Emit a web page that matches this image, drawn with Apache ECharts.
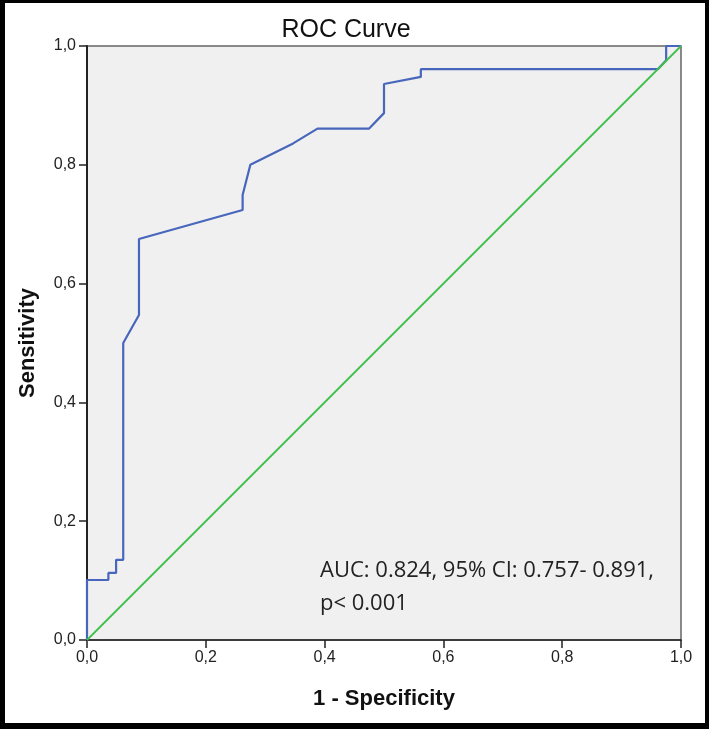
<!DOCTYPE html>
<html>
<head>
<meta charset="utf-8">
<script src="https://cdn.jsdelivr.net/npm/echarts@6/dist/echarts.min.js"></script>
<style>html,body{margin:0;padding:0;background:#fff;}#c{width:709px;height:729px;}</style>
</head>
<body>
<div id="c"></div>
<script>
var fpr = [0, 0, 0.036, 0.036, 0.049, 0.049, 0.061, 0.061, 0.0875, 0.0875, 0.262, 0.262, 0.275, 0.347, 0.388, 0.475, 0.5, 0.5, 0.562, 0.562, 0.961, 0.975, 0.975, 1];
var tpr = [0, 0.101, 0.101, 0.113, 0.113, 0.135, 0.135, 0.5, 0.547, 0.675, 0.724, 0.749, 0.80, 0.836, 0.861, 0.861, 0.887, 0.936, 0.948, 0.961, 0.961, 0.976, 1, 1];
var refX = [0, 1];
var refY = [0, 1];
var tickLabels = ['0,0', '0,2', '0,4', '0,6', '0,8', '1,0'];

function pairs(xs, ys) { return xs.map(function (x, i) { return [x, ys[i]]; }); }
function fmt(v) { return tickLabels[Math.round(v * 5)]; }

var chart = echarts.init(document.getElementById('c'));
chart.setOption({
  animation: false,
  backgroundColor: '#ffffff',
  title: {
    text: 'ROC Curve', left: 341, top: 13, textAlign: 'center',
    textStyle: { fontFamily: 'Liberation Sans', fontSize: 25, fontWeight: 'normal', color: '#111' }
  },
  grid: { left: 87, right: 28, top: 46, bottom: 89, show: true, backgroundColor: '#f0f0f0', borderColor: '#666', borderWidth: 1.5 },
  xAxis: {
    type: 'value', min: 0, max: 1, interval: 0.2,
    name: '1 - Specificity', nameLocation: 'middle', nameGap: 48,
    nameTextStyle: { fontFamily: 'Liberation Sans', fontSize: 22, fontWeight: 'bold', color: '#111' },
    axisLine: { show: true, onZero: false, lineStyle: { color: '#222', width: 1.5 } },
    axisTick: { show: true, length: 8, lineStyle: { color: '#222', width: 1.5 } },
    axisLabel: { formatter: fmt, fontFamily: 'Liberation Sans', fontSize: 16, color: '#222', margin: 10 },
    splitLine: { show: false }
  },
  yAxis: {
    type: 'value', min: 0, max: 1, interval: 0.2,
    name: 'Sensitivity', nameLocation: 'middle', nameGap: 48, nameRotate: 90,
    nameTextStyle: { fontFamily: 'Liberation Sans', fontSize: 22, fontWeight: 'bold', color: '#111' },
    axisLine: { show: true, onZero: false, lineStyle: { color: '#222', width: 2 } },
    axisTick: { show: true, length: 8, lineStyle: { color: '#222', width: 1.5 } },
    axisLabel: { formatter: fmt, fontFamily: 'Liberation Sans', fontSize: 16, color: '#222', margin: 11 },
    splitLine: { show: false }
  },
  series: [
    {
      type: 'line', data: pairs(fpr, tpr), showSymbol: false, symbol: 'none', z: 3,
      lineStyle: { color: '#4866bb', width: 2.2 }
    },
    {
      type: 'line', data: pairs(refX, refY), showSymbol: false, symbol: 'none', z: 4,
      lineStyle: { color: '#3ec24a', width: 1.8 }
    }
  ],
  graphic: [
    { type: 'text', left: 320, top: 554, style: { text: 'AUC: 0.824, 95% CI: 0.757- 0.891,\np< 0.001', font: '22px "Open Sans"', fill: '#222', lineHeight: 33 } },
    { type: 'rect', left: 0, top: 0, shape: { x: 0, y: 0, width: 709, height: 3 }, style: { fill: '#000' } },
    { type: 'rect', left: 0, top: 0, shape: { x: 0, y: 0, width: 5, height: 729 }, style: { fill: '#000' } },
    { type: 'rect', left: 705, top: 0, shape: { x: 0, y: 0, width: 4, height: 729 }, style: { fill: '#000' } },
    { type: 'rect', left: 0, top: 723, shape: { x: 0, y: 0, width: 709, height: 6 }, style: { fill: '#000' } }
  ]
});
</script>
</body>
</html>
